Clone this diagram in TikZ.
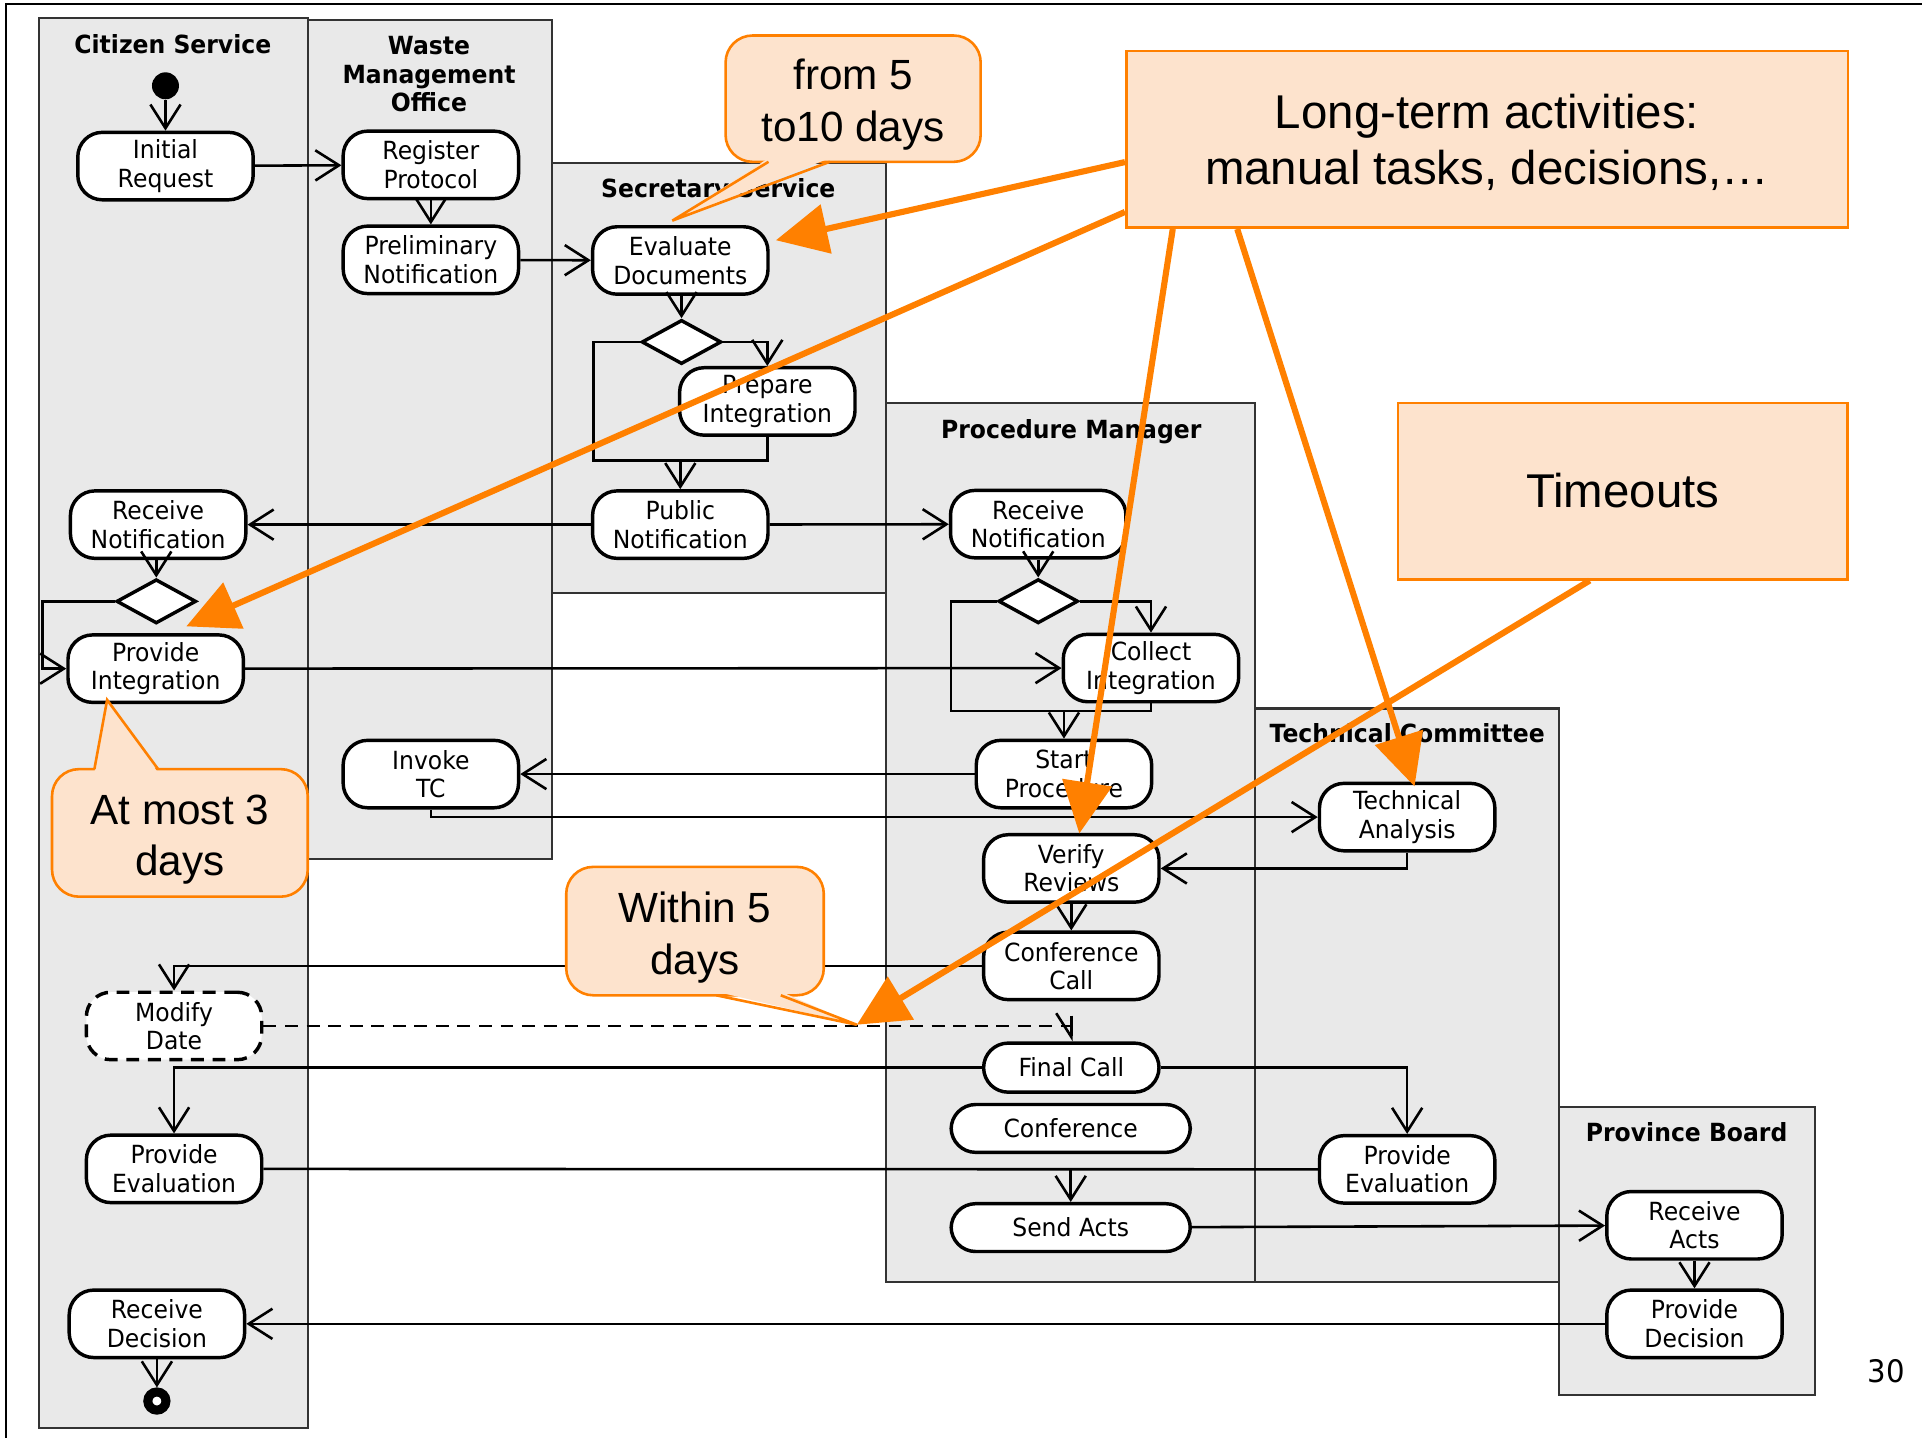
\documentclass[tikz,border=0pt]{standalone}
\usepackage{fontspec}
\setmainfont{DejaVu Sans}[FakeStretch=0.94]
\newfontfamily\notefont{Liberation Sans}
\usetikzlibrary{shapes.geometric, arrows.meta, calc}
\definecolor{laneGray}{RGB}{233,233,233}
\definecolor{noteOrange}{RGB}{255,128,0}
\definecolor{notePeach}{RGB}{253,227,205}

\begin{document}
\begin{tikzpicture}[x=0.01cm, y=-0.01cm,
  lane/.style={draw=black!80, line width=0.5pt, fill=laneGray},
  lanetitle/.style={font=\fontsize{5.8}{6.6}\selectfont\bfseries, align=center},
  act/.style={draw, line width=0.8pt, fill=white, rounded corners=0.2cm, minimum width=1.43cm, minimum height=0.55cm, inner sep=0pt, align=center, font=\fontsize{5.8}{6.6}\selectfont},
  wideact/.style={act, minimum width=1.95cm, minimum height=0.39cm},
  choice/.style={diamond, draw, line width=0.8pt, fill=white, minimum width=0.65cm, minimum height=0.36cm, inner sep=0pt},
  flow/.style={line width=0.6pt, -{Straight Barb[length=5.5pt,width=7pt]}},
  callout/.style={draw=noteOrange, fill=notePeach, line width=0.6pt, rounded corners=0.22cm, align=center, inner sep=0pt, font=\notefont\fontsize{9.8}{12}\selectfont},
  note/.style={draw=noteOrange, fill=notePeach, line width=0.6pt, align=center, inner sep=0pt, font=\notefont\fontsize{11}{13}\selectfont},
  bigArrow/.style={draw=noteOrange, fill=noteOrange, line width=0.05cm, -{Triangle[length=0.42cm,width=0.4cm]}}]
\useasboundingbox (0,0) rectangle (1568,1173);
\draw[line width=0.5pt] (5,1173) -- (5,3) -- (1568,3);

% swimlanes
\draw[lane] (32,15) rectangle (251,1165);
\draw[lane] (251,16) rectangle (450,701);
\draw[lane] (450,133) rectangle (723,484);
\draw[lane] (723,329) rectangle (1024,1046);
\draw[lane] (1024,578) rectangle (1272,1046);
\draw[lane] (1272,903) rectangle (1481,1138);
\node[lanetitle, anchor=base] (tCitizen) at (141,44) {Citizen Service};
\node[lanetitle] (tWaste) at (350,60.5) {Waste\\Management\\Office};
\node[lanetitle, anchor=base] (tSecretary) at (586,161) {Secretary Service};
\node[lanetitle, anchor=base] (tManager) at (874,357.5) {Procedure Manager};
\node[lanetitle, anchor=base] (tCommittee) at (1148,606) {Technical Committee};
\node[lanetitle, anchor=base] (tBoard) at (1376,931) {Province Board};

% activities
\node[circle, fill=black, minimum size=0.22cm, inner sep=0pt] (start) at (135,70) {};
\node[act] (initReq) at (135,135.5) {Initial\\Request};
\node[act] (regProt) at (351.5,134.5) {Register\\Protocol};
\node[act] (prelNotif) at (351.5,212) {Preliminary\\Notification};
\node[act] (evalDocs) at (555,212.5) {Evaluate\\Documents};
\node[choice] (secDec) at (556,279) {};
\node[act] (prepInt) at (626,327.5) {Prepare\\Integration};
\node[act] (pubNotif) at (555,428) {Public\\Notification};
\node[act] (citRecv) at (129,428) {Receive\\Notification};
\node[choice] (citDec) at (127.5,490.6) {};
\node[act] (citProv) at (127,545.5) {Provide\\Integration};
\node[act] (pmRecv) at (847,427.6) {Receive\\Notification};
\node[choice] (pmDec) at (847,490.5) {};
\node[act] (collInt) at (939,545) {Collect\\Integration};
\node[act] (startProc) at (868,631.5) {Start\\Procedure};
\node[act] (invokeTC) at (351.5,631.5) {Invoke\\TC};
\node[act] (techAn) at (1148,666.6) {Technical\\Analysis};
\node[act] (verRev) at (874,708.5) {Verify\\Reviews};
\node[act] (confCall) at (874,788) {Conference\\Call};
\node[act, dash pattern=on 3pt off 2pt] (modDate) at (142,837) {Modify\\Date};
\node[act, minimum height=0.4cm] (finCall) at (874,871) {Final Call};
\node[wideact] (conf) at (873.5,920.6) {Conference};
\node[act] (citEval) at (142,953.6) {Provide\\Evaluation};
\node[act] (tcEval) at (1148,954) {Provide\\Evaluation};
\node[wideact] (sendActs) at (873.5,1001.5) {Send Acts};
\node[act] (recActs) at (1382.4,999.6) {Receive\\Acts};
\node[act] (provDec) at (1382.4,1080) {Provide\\Decision};
\node[act] (recDec) at (128,1080) {Receive\\Decision};
\node[circle, draw, line width=2.1pt, fill=white, minimum size=0.148cm, inner sep=0pt] (stop) at (128,1143) {};
\coordinate (secLoop) at (484,375.7);
\coordinate (pmLoop) at (776,580.2);

% flows
\draw[flow] (start) -- (initReq);
\draw[flow] (initReq) -- (regProt);
\draw[flow] (regProt) -- (prelNotif);
\draw[flow] (prelNotif) -- (evalDocs);
\draw[flow] (secDec.north |- evalDocs.south) -- (secDec.north);
\draw[line width=0.6pt] (secDec.west) -| (secLoop) -| (prepInt.south);
\draw[flow] (secDec.east) -| (prepInt.north);
\draw[flow] (secLoop -| pubNotif.north) -- (pubNotif.north);
\draw[flow] (pubNotif) -- (citRecv);
\draw[flow] (pubNotif) -- (pmRecv);
\draw[flow] (citDec.north |- citRecv.south) -- (citDec.north);
\draw[flow] (citDec.west) -- ++(-59,0) |- (citProv.west);
\draw[flow] (citProv) -- (collInt);
\draw[flow] (pmDec.north |- pmRecv.south) -- (pmDec.north);
\draw[line width=0.6pt] (pmDec.west) -| (pmLoop) -| (collInt.south);
\draw[flow] (pmDec.east) -| (collInt.north);
\draw[flow] (pmLoop -| startProc.north) -- (startProc.north);
\draw[flow] (startProc) -- (invokeTC);
\draw[flow] (invokeTC.south) |- (techAn.west);
\draw[flow] (techAn.south) |- (verRev.east);
\draw[flow] (verRev) -- (confCall);
\draw[flow] (confCall.west) -| (modDate.north);
\draw[line width=0.6pt, dash pattern=on 3pt off 2pt] (modDate.east) -- (modDate.east -| finCall.north);
\draw[line width=0.6pt, -{Straight Barb[harpoon,swap,length=5.5pt,width=7pt]}] (modDate.east -| finCall.north) ++(0,-8.5) -- (finCall.north);
\draw[flow] (finCall.west) -| (citEval.north);
\draw[flow] (finCall.east) -| (tcEval.north);
\draw[line width=0.6pt] (citEval) -- (tcEval);
\draw[flow] (sendActs.north |- citEval.east) -- (sendActs.north);
\draw[flow] (sendActs) -- (recActs);
\draw[flow] (recActs) -- (provDec);
\draw[flow] (provDec) -- (recDec);
\draw[flow] (recDec) -- (stop);

% callouts
\node[callout, minimum width=2.08cm, minimum height=1.03cm] (fromFive) at (696,80.5) {\rule{0pt}{10pt}from 5\\to10 days};
\fill[notePeach] (627,129) -- (548.5,180) -- (677,129) -- cycle;
\draw[draw=noteOrange, line width=0.6pt] (627,132) -- (548.5,180) -- (677,132);
\node[callout, minimum width=2.085cm, minimum height=1.04cm] (atMost) at (146.75,679.5) {\rule{0pt}{10pt}At most 3\\days};
\fill[notePeach] (77,630.5) -- (87.4,571) -- (129,630.5) -- cycle;
\draw[draw=noteOrange, line width=0.6pt] (77,627.5) -- (87.4,571) -- (129,627.5);
\node[callout, minimum width=2.1cm, minimum height=1.047cm] (withinFive) at (567,759.6) {\rule{0pt}{10pt}Within 5\\days};
\fill[notePeach] (584.4,809) -- (699,836) -- (637,809) -- cycle;
\draw[draw=noteOrange, line width=0.6pt] (584.4,812) -- (699,836) -- (637,812);

% notes
\node[note, minimum width=5.884cm, minimum height=1.441cm] (longTerm) at (1213.2,113.65) {\rule{0pt}{9.5pt}Long-term activities:\\manual tasks, decisions,\dots};
\node[note, minimum width=3.663cm, minimum height=1.438cm] (timeOuts) at (1323.85,400.6) {Timeouts};
\coordinate (tipEval) at (633,196);
\coordinate (tipProv) at (152,511);
\coordinate (tipVer) at (880.5,680);
\coordinate (tipTech) at (1154,641.6);
\coordinate (tipDash) at (699,836);
\draw[bigArrow] ($(longTerm.north west)!0.627!(longTerm.south west)$) -- (tipEval);
\draw[bigArrow] ($(longTerm.north west)!0.905!(longTerm.south west)$) -- (tipProv);
\draw[bigArrow] ($(longTerm.south west)!0.066!(longTerm.south east)$) -- (tipVer);
\draw[bigArrow] ($(longTerm.south west)!0.155!(longTerm.south east)$) -- (tipTech);
\draw[bigArrow] ($(timeOuts.south west)!0.427!(timeOuts.south east)$) -- (tipDash);

\node[font=\fontsize{7.2}{8}\selectfont] (pageNum) at (1539,1119) {30};
\end{tikzpicture}
\end{document}
